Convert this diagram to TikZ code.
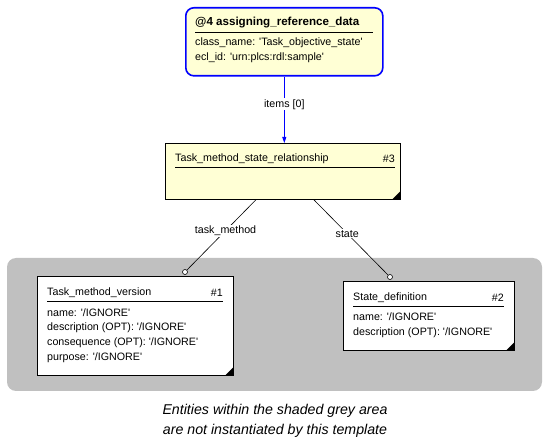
\documentclass[tikz,border=0pt]{standalone}
\usepackage{fontspec}
\setmainfont{Liberation Sans}[Ligatures=TeXOff]
\usetikzlibrary{arrows.meta}
\definecolor{boxyellow}{HTML}{FFFFD5}
\definecolor{areagrey}{HTML}{C0C0C0}
\definecolor{linkblue}{HTML}{0000FF}
\tikzset{
  entitybox/.style={draw=black, fill=white, line width=0.8pt, anchor=north west, inner sep=0pt},
  attr/.style={anchor=west, inner sep=0pt, font=\fontsize{10.7}{12}\selectfont},
  lbl/.style={fill=white, inner sep=1pt, font=\fontsize{10.7}{12}\selectfont},
  endcircle/.style={circle, draw=black, fill=white, inner sep=0pt, minimum size=5pt, line width=0.6pt},
}
\begin{document}
\begin{tikzpicture}[x=1pt,y=-1pt]
\useasboundingbox (0,0) rectangle (550,441);
% shaded area
\fill[areagrey, rounded corners=9pt] (7,258) rectangle (542,391);
% @4 template box
\node[entitybox, draw=linkblue, line width=1.6pt, fill=boxyellow, rounded corners=8pt,
      minimum width=197pt, minimum height=68pt] (ard) at (185,7) {};
\node[attr, font=\fontsize{11.6}{13}\bfseries] (ardtitle) at (195,23) {@4 assigning\_reference\_data};
\draw[line width=0.6pt] (195,32) -- (373,32);
\node[attr] (ardcls) at (195,43) {class\_name: 'Task\_objective\_state'};
\node[attr] (ardecl) at (195,58) {ecl\_id: 'urn:plcs:rdl:sample'};
% #3
\node[entitybox, fill=boxyellow, minimum width=235pt, minimum height=56pt] (rel) at (165,143) {};
\node[attr] (reltitle) at (175,159) {Task\_method\_state\_relationship};
\node[attr, anchor=east] (relnum) at (395,159) {\#3};
\draw[line width=0.6pt] (175,167) -- (395,167);
\fill (rel.south east) -- ++(-9,0) -- ++(9,-9) -- cycle;
% #1
\node[entitybox, minimum width=196pt, minimum height=99pt] (tmv) at (37,276) {};
\node[attr] (tmvtitle) at (47,293) {Task\_method\_version};
\node[attr, anchor=east] (tmvnum) at (223,293) {\#1};
\draw[line width=0.6pt] (47,301) -- (223,301);
\node[attr] (tmvname) at (47,313) {name: '/IGNORE'};
\node[attr] (tmvdesc) at (47,328) {description (OPT): '/IGNORE'};
\node[attr] (tmvcons) at (47,343) {consequence (OPT): '/IGNORE'};
\node[attr] (tmvpurp) at (47,358) {purpose: '/IGNORE'};
\fill (tmv.south east) -- ++(-9,0) -- ++(9,-9) -- cycle;
% #2
\node[entitybox, minimum width=171pt, minimum height=69pt] (sd) at (343,281) {};
\node[attr] (sdtitle) at (353,298) {State\_definition};
\node[attr, anchor=east] (sdnum) at (504,298) {\#2};
\draw[line width=0.6pt] (353,306) -- (504,306);
\node[attr] (sdname) at (353,317) {name: '/IGNORE'};
\node[attr] (sddesc) at (353,333) {description (OPT): '/IGNORE'};
\fill (sd.south east) -- ++(-9,0) -- ++(9,-9) -- cycle;
% connectors
\draw[linkblue, line width=0.8pt, -{Triangle[length=6pt,width=4pt]}] (ard.south) -- (ard.south |- rel.north)
  node[pos=0.42, lbl, text=black] {items [0]};
\node[endcircle] (tmvend) at (185,272) {};
\node[endcircle] (sdend) at (390,277) {};
\draw[line width=0.6pt] ([xshift=-27pt]rel.south) -- (tmvend)
  node[pos=0.44, lbl] {task\_method};
\draw[line width=0.6pt] ([xshift=31pt]rel.south) -- (sdend)
  node[pos=0.45, lbl] {state};
% caption
\node[font=\fontsize{14.2}{20}\itshape, align=center] (note) at (275,421)
  {Entities within the shaded grey area\\are not instantiated by this template};
\end{tikzpicture}
\end{document}
